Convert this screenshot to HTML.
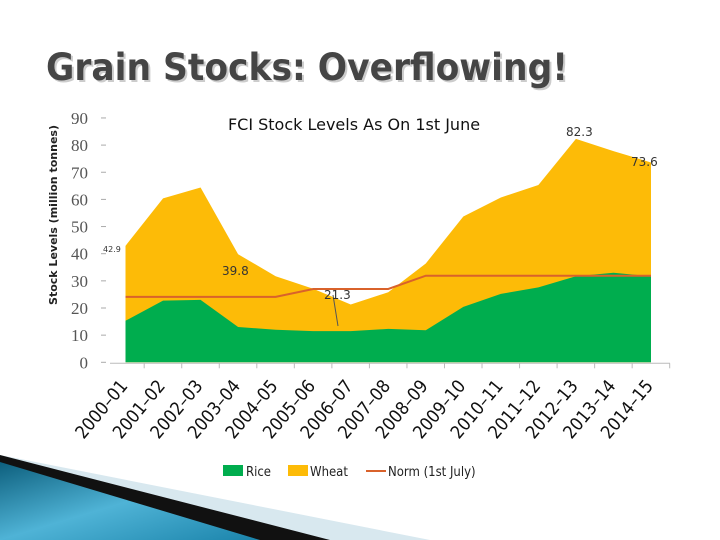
<!DOCTYPE html>
<html><head><meta charset="utf-8"><style>
html,body{margin:0;padding:0;background:#fff;width:720px;height:540px;overflow:hidden}
svg{display:block}
</style></head><body>
<svg width="720" height="540" viewBox="0 0 720 540">
<defs>
<linearGradient id="bl" x1="0" y1="0" x2="1" y2="1"><stop offset="0" stop-color="#0d5f7d"/><stop offset="0.5" stop-color="#4fb3d6"/><stop offset="1" stop-color="#1b84ab"/></linearGradient>
</defs>
<g>
<polygon points="0,455 430,540 0,540" fill="#d8e8ef"/>
<polygon points="0,455 330,540 0,540" fill="#111"/>
<polygon points="0,462 260,540 0,540" fill="url(#bl)"/>
</g>
<text x="48" y="82" font-family="DejaVu Sans, sans-serif" font-size="37" font-weight="bold" fill="#ccc" textLength="522" lengthAdjust="spacingAndGlyphs">Grain Stocks: Overflowing!</text>
<text x="46" y="80" font-family="DejaVu Sans, sans-serif" font-size="37" font-weight="bold" fill="#454545" textLength="522" lengthAdjust="spacingAndGlyphs">Grain Stocks: Overflowing!</text>
<g id="chart"></g>
</svg>
<script>
const categories=["2000–01","2001–02","2002–03","2003–04","2004–05","2005–06","2006–07","2007–08","2008–09","2009–10","2010–11","2011–12","2012–13","2013–14","2014–15"];
const riceValues=[15.3,22.7,23,13,12,11.5,11.5,12.3,11.8,20.4,25.2,27.6,31.7,33,31.7];
const totalValues=[42.9,60.4,64.4,39.8,31.7,27.1,21.3,25.8,36.4,53.7,60.7,65.3,82.3,77.8,73.6];
const normValues=[24.1,24.1,24.1,24.1,24.1,27,27,27,31.9,31.9,31.9,31.9,31.9,31.9,31.9];
const yTicks=[0,10,20,30,40,50,60,70,80,90];
const NS="http://www.w3.org/2000/svg";
const g=document.getElementById('chart');
const x0=125.5,x1=651,yB=362.3,yPer=2.715;
const X=i=>x0+i*(x1-x0)/(categories.length-1);
const Y=v=>yB-v*yPer;
function mk(t,a,p){const e=document.createElementNS(NS,t);for(const k in a)e.setAttribute(k,a[k]);(p||g).appendChild(e);return e;}
let d="M"+X(0)+","+Y(0);
totalValues.forEach((v,i)=>d+=" L"+X(i)+","+Y(v));
d+=" L"+X(categories.length-1)+","+Y(0)+" Z";
const wa=mk('path',{d:d,fill:'#fdbb07'});


d="M"+X(0)+","+Y(0);
riceValues.forEach((v,i)=>d+=" L"+X(i)+","+Y(v));
d+=" L"+X(categories.length-1)+","+Y(0)+" Z";
const ra=mk('path',{d:d,fill:'#00ad4e'});


d="";
normValues.forEach((v,i)=>d+=(i?" L":"M")+X(i)+","+Y(v));
const nl=mk('path',{d:d,fill:'none',stroke:'#d9622b','stroke-width':2});


const ax=mk('line',{x1:110,y1:yB+1,x2:670,y2:yB+1,stroke:'#bbb','stroke-width':1});


for(let i=0;i<categories.length;i++){
 const tx=X(i)+18.7;
 const t=mk('line',{x1:tx,y1:yB+1,x2:tx,y2:yB+6,stroke:'#bbb'});
 
 
}
categories.forEach((c,i)=>{
 const cx=X(i)+3,cy=yB+24;
 const t=mk('text',{x:cx,y:cy,'text-anchor':'end','font-family':'DejaVu Sans Condensed, DejaVu Sans, sans-serif','font-size':18,fill:'#111',transform:`rotate(-50 ${cx} ${cy})`});
 t.textContent=c;
 
 
});
yTicks.forEach(v=>{
 const t=mk('text',{x:88,y:Y(v)+6,'text-anchor':'end','font-family':'Liberation Serif, serif','font-size':17,fill:'#555'});
 t.textContent=v;
 
 
 const l=mk('line',{x1:101,y1:Y(v),x2:106,y2:Y(v),stroke:'#aaa'});
 
 
});
const yt=mk('text',{x:57,y:215,'text-anchor':'middle','font-family':'DejaVu Sans, sans-serif','font-size':11,'font-weight':'bold',fill:'#222',transform:'rotate(-90 57 215)'});
yt.textContent="Stock Levels (million tonnes)";


const ct=mk('text',{x:354,y:130,'text-anchor':'middle','font-family':'DejaVu Sans, sans-serif','font-size':16,fill:'#111'});
ct.textContent="FCI Stock Levels As On 1st June";


function lab(s,x,y,fs,name){const t=mk('text',{x:x,y:y,'font-family':'DejaVu Sans, sans-serif','font-size':fs,fill:'#333'});t.textContent=s;}
lab(totalValues[0].toFixed(1),103,252,8,'value-label-2000');
lab(totalValues[3].toFixed(1),222,275,12,'value-label-2003');
const ar=mk('line',{x1:338,y1:326,x2:333,y2:295,stroke:'#555'});


lab(totalValues[6].toFixed(1),324,299,12,'value-label-2006');
lab(totalValues[12].toFixed(1),566,136,12,'value-label-2012');
lab(totalValues[14].toFixed(1),631,166,12,'value-label-2014');
const lg=mk('g',{});


mk('rect',{x:223,y:465,width:20,height:11,fill:'#00ad4e'},lg);
mk('rect',{x:288,y:465,width:20,height:11,fill:'#fdbb07'},lg);
mk('line',{x1:366,y1:471,x2:386,y2:471,stroke:'#d9622b','stroke-width':2},lg);
[["Rice",246],["Wheat",310],["Norm (1st July)",388]].forEach(([s,x])=>{
 const t=mk('text',{x:x,y:476,'font-family':'DejaVu Sans Condensed, DejaVu Sans, sans-serif','font-size':13,fill:'#222'},lg);
 t.textContent=s;
 
 
});
</script>
</body></html>
